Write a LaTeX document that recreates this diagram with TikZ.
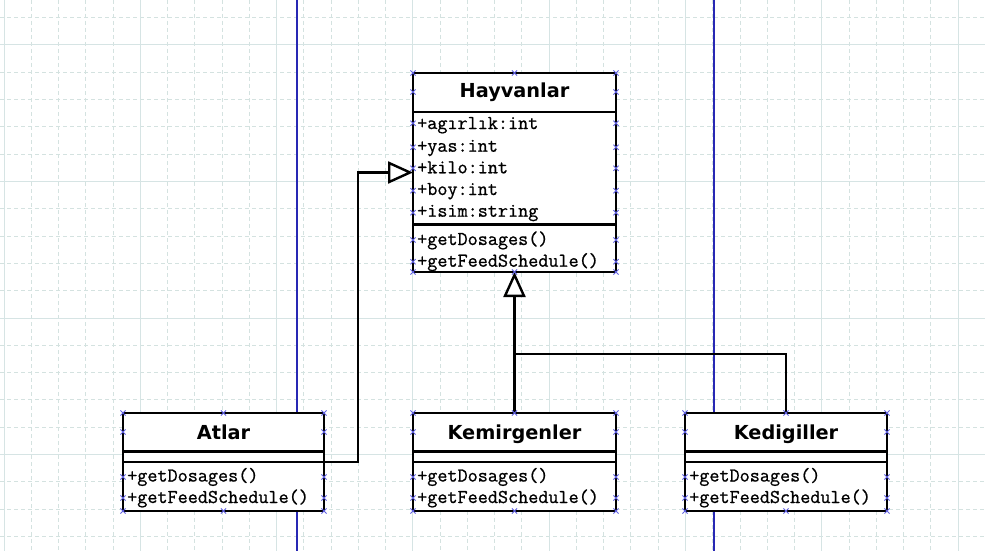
\documentclass[tikz,border=0pt]{standalone}
\usepackage{fontspec}
\newfontfamily\headfont{DejaVu Sans}
\newfontfamily\memberfont{Latin Modern Mono}[FakeBold=0.9]
\usetikzlibrary{arrows.meta,calc}
\definecolor{gridsolid}{RGB}{214,228,228}
\definecolor{griddash}{RGB}{212,226,224}
\definecolor{pageline}{RGB}{40,40,180}
\definecolor{handlecol}{RGB}{95,95,225}
\newcommand\handleat[1]{\draw[handle] (#1) +(-2.6,-2.6) -- +(2.6,2.6) +(-2.6,2.6) -- +(2.6,-2.6);}
\begin{document}
\begin{tikzpicture}[x=1pt,y=-1pt,
  classbox/.style={draw=black, line width=2.4pt, fill=white, inner sep=0pt, outer sep=0pt},
  divider/.style={black, line width=2.4pt},
  link/.style={black, line width=2.4pt},
  inherit/.style={link, -{Triangle[open, fill=white, length=25pt, width=22pt]}},
  title/.style={anchor=base, inner sep=0pt, font=\headfont\bfseries\fontsize{19.3}{22}\selectfont},
  member/.style={anchor=base west, inner sep=0pt, font=\memberfont\fontsize{19.6}{22}\selectfont},
  handle/.style={handlecol, line width=0.9pt},
  griddashed/.style={griddash, line width=1pt, dash pattern=on 4pt off 3pt},
  gridmajor/.style={gridsolid, line width=1pt},
  pagebreak/.style={pageline, line width=1.2pt}]
\useasboundingbox (0,0) rectangle (985,551);
\fill[white] (0,0) rectangle (985,551);

% background grid: minor dashed lines, every fifth one solid
\foreach \k in {0,...,36} {\draw[griddashed] ({4+27.26*\k},0) -- ({4+27.26*\k},551);}
\foreach \k in {-1,...,18} {\draw[griddashed] (0,{45+27.3*\k}) -- (985,{45+27.3*\k});}
\foreach \k in {0,5,...,35} {\draw[gridmajor] ({4+27.26*\k},0) -- ({4+27.26*\k},551);}
\foreach \k in {0,5,10,15} {\draw[gridmajor] (0,{45+27.3*\k}) -- (985,{45+27.3*\k});}

% page boundaries
\draw[pagebreak] (297,0) -- (297,551);
\draw[pagebreak] (714,0) -- (714,551);

% class boxes
\node[classbox, minimum width=203pt, minimum height=199pt] (hay) at (514.5,172.5) {};
\node[classbox, minimum width=201pt, minimum height=98pt] (atl) at (223.5,462) {};
\node[classbox, minimum width=203pt, minimum height=98pt] (kem) at (514.5,462) {};
\node[classbox, minimum width=202pt, minimum height=98pt] (ked) at (786,462) {};

% compartments
\draw[divider] ($(hay.north west)+(0,39)$) -- ($(hay.north east)+(0,39)$);
\draw[divider] ($(hay.north west)+(0,151.5)$) -- ($(hay.north east)+(0,151.5)$);
\foreach \b in {atl,kem,ked} {
  \draw[divider] ($(\b.north west)+(0,38.5)$) -- ($(\b.north east)+(0,38.5)$);
  \draw[divider] ($(\b.north west)+(0,49)$) -- ($(\b.north east)+(0,49)$);
}

% Hayvanlar
\node[title] (hayname) at ($(hay.north)+(0,24.7)$) {Hayvanlar};
\node[member] (hay1) at ($(hay.north west)+(4,56)$) {+agırlık:int};
\node[member] (hay2) at ($(hay.north west)+(4,78.7)$) {+yas:int};
\node[member] (hay3) at ($(hay.north west)+(4,100.3)$) {+kilo:int};
\node[member] (hay4) at ($(hay.north west)+(4,122)$) {+boy:int};
\node[member] (hay5) at ($(hay.north west)+(4,143.7)$) {+isim:string};
\node[member] (hay6) at ($(hay.north west)+(4,172)$) {+getDosages()};
\node[member] (hay7) at ($(hay.north west)+(4,193.7)$) {+getFeedSchedule()};

% subclasses
\node[title] (atlname) at ($(atl.north)+(0,26)$) {Atlar};
\node[title] (kemname) at ($(kem.north)+(0,26)$) {Kemirgenler};
\node[title] (kedname) at ($(ked.north)+(0,26)$) {Kedigiller};
\foreach \b in {atl,kem,ked} {
  \node[member] (\b m1) at ($(\b.north west)+(4,68.5)$) {+getDosages()};
  \node[member] (\b m2) at ($(\b.north west)+(4,90)$) {+getFeedSchedule()};
}

% generalisation connectors
\draw[inherit] (atl.east) -| ($(hay.west)+(-55,0)$) -- (hay.west);
\draw[inherit] (kem.north) -- (hay.south);
\coordinate (join) at ($(kem.north)+(0,-59)$);
\draw[link] (ked.north) |- (join);

% selection handles
\foreach \a in {north west, north, north east, south west, south, south east} {\handleat{hay.\a}}
\foreach \dy in {19,50.3,74.3,95.3,117.7,139.7,167,188.7} {
  \handleat{$(hay.north west)+(0,\dy)$}
  \handleat{$(hay.north east)+(0,\dy)$}
}
\foreach \b in {atl,kem,ked} {
  \foreach \a in {north west, north, north east, south west, south, south east} {\handleat{\b.\a}}
  \foreach \dy in {19,64,85} {
    \handleat{$(\b.north west)+(0,\dy)$}
    \handleat{$(\b.north east)+(0,\dy)$}
  }
}
\end{tikzpicture}
\end{document}
